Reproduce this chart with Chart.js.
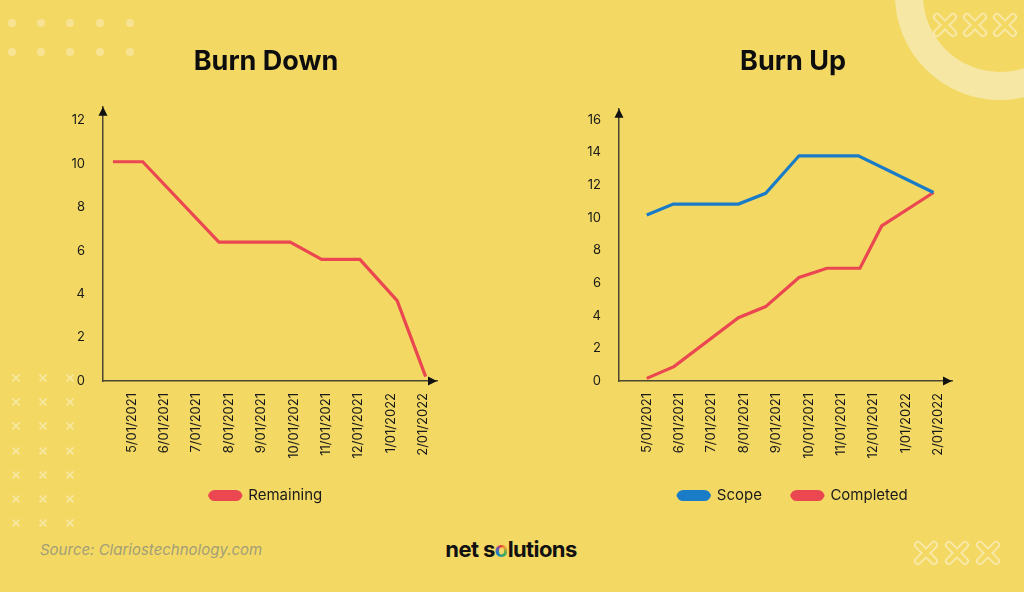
<!DOCTYPE html>
<html>
<head>
<meta charset="utf-8">
<script src="https://cdn.jsdelivr.net/npm/chart.js@4.4.0/dist/chart.umd.min.js"></script>
<style>
  body { margin: 0; width: 1024px; height: 592px; overflow: hidden; background: #f3d964; position: relative; font-family: Inter, sans-serif; }
  #deco { position: absolute; left: 0; top: 0; }
  #burnDown { position: absolute; left: 28px; top: 0; }
  #burnUp { position: absolute; left: 580px; top: 0; }
  .source { position: absolute; left: 40px; top: 540px; font-size: 15px; font-style: italic; color: #a39d78; }
  .logo { position: absolute; left: 511px; top: 536px; transform: translateX(-50%); font-size: 22px; font-weight: 700; color: #111; letter-spacing: -0.6px; }
  .logo span { background: conic-gradient(#e8403f, #f2a431, #3cae5a, #1b7dc4, #8b4fa8, #e8403f); -webkit-background-clip: text; background-clip: text; color: transparent; }
</style>
</head>
<body>
<svg id="deco" width="1024" height="592"></svg>
<canvas id="burnDown" width="480" height="513"></canvas>
<canvas id="burnUp" width="428" height="513"></canvas>
<div class="source">Source: Clariostechnology.com</div>
<div class="logo">net s<span>o</span>lutions</div>
<script>
// x positions are in months counted from 5/01/2021 (label index)
const dateLabels = ['5/01/2021', '6/01/2021', '7/01/2021', '8/01/2021', '9/01/2021',
  '10/01/2021', '11/01/2021', '12/01/2021', '1/01/2022', '2/01/2022'];

const remainingX = [-0.58, 0.34, 2.69, 4.89, 5.86, 7.04, 8.19, 9.07];
const remainingY = [10.1, 10.1, 6.4, 6.4, 5.6, 5.6, 3.7, 0.2];

const scopeX = [0, 0.82, 2.83, 3.67, 4.70, 6.53, 8.85];
const scopeY = [10.17, 10.84, 10.84, 11.5, 13.8, 13.8, 11.55];

const completedX = [0, 0.84, 2.83, 3.67, 4.70, 5.56, 6.58, 7.25, 8.85];
const completedY = [0.16, 0.88, 3.88, 4.56, 6.34, 6.91, 6.91, 9.5, 11.55];

const downTicks = [0, 2, 4, 6, 8, 10, 12];
const upTicks = [0, 2, 4, 6, 8, 10, 12, 14, 16];

const RED = '#ea4750';
const BLUE = '#1a7cc6';
const INK = '#1a1a1a';
const FONT = 'Inter, sans-serif';

function points(xs, ys) {
  return xs.map((x, i) => ({ x: x, y: ys[i] }));
}

// background decorations
const svg = document.getElementById('deco');
let deco = '';
deco += '<circle cx="1000" cy="-5" r="91" fill="none" stroke="#f6e7a4" stroke-width="28"/>';
[12, 41, 70, 100, 130].forEach(x => {
  [23, 52].forEach(y => { deco += `<circle cx="${x}" cy="${y}" r="4" fill="#f7e393"/>`; });
});
[16, 43, 70].forEach(x => {
  [378, 402, 426, 451, 475, 499, 523].forEach(y => {
    deco += `<path d="M${x-3.5} ${y-3.5}L${x+3.5} ${y+3.5}M${x+3.5} ${y-3.5}L${x-3.5} ${y+3.5}" stroke="#f8e8a6" stroke-width="1.6"/>`;
  });
});
function bigCross(x, y) {
  const d = `M${x-8} ${y-8}L${x+8} ${y+8}M${x+8} ${y-8}L${x-8} ${y+8}`;
  return `<path d="${d}" stroke="#f8e9ab" stroke-width="8" stroke-linecap="round"/>` +
         `<path d="${d}" stroke="#f3d964" stroke-width="4.5" stroke-linecap="round"/>`;
}
[945, 975, 1005].forEach(x => { deco += bigCross(x, 25); });
[926, 957, 988].forEach(x => { deco += bigCross(x, 553); });
svg.innerHTML = deco;

const axisArrows = {
  id: 'axisArrows',
  afterDraw(chart) {
    const { ctx, chartArea: a } = chart;
    ctx.save();
    ctx.fillStyle = '#111';
    ctx.beginPath();
    ctx.moveTo(a.left, a.top);
    ctx.lineTo(a.left - 4.5, a.top + 9);
    ctx.lineTo(a.left + 4.5, a.top + 9);
    ctx.fill();
    ctx.beginPath();
    ctx.moveTo(a.right, a.bottom);
    ctx.lineTo(a.right - 9, a.bottom - 4.5);
    ctx.lineTo(a.right - 9, a.bottom + 4.5);
    ctx.fill();
    ctx.restore();
  }
};

function makeOptions(o) {
  return {
    responsive: false,
    animation: false,
    layout: { padding: { left: o.padLeft, right: o.padRight, top: 0, bottom: 0 } },
    elements: { point: { radius: 0 }, line: { tension: 0, borderWidth: 3.2 } },
    plugins: {
      title: {
        display: true, text: o.title, color: '#0d0d0d',
        font: { family: FONT, size: 27, weight: '700' },
        padding: { top: 46, bottom: o.titleBottom }
      },
      legend: {
        position: 'bottom',
        labels: {
          color: INK, font: { family: FONT, size: 15 },
          boxWidth: 31, boxHeight: 8, padding: 30,
          useBorderRadius: true, borderRadius: 5
        }
      },
      tooltip: { enabled: false }
    },
    scales: {
      x: {
        type: 'linear', min: o.xMin, max: o.xMax,
        grid: { display: false },
        border: { display: true, color: '#4a4632', width: 1.5 },
        ticks: {
          color: INK, font: { family: FONT, size: 13 }, padding: 4,
          minRotation: 90, maxRotation: 90, autoSkip: false,
          callback: (v, i) => dateLabels[i]
        },
        afterBuildTicks: s => { s.ticks = dateLabels.map((_, i) => ({ value: i })); },
        afterFit: s => { s.height = 77; }
      },
      y: {
        min: 0, max: o.yMax,
        grid: { display: false },
        border: { display: true, color: '#4a4632', width: 1.5 },
        ticks: { color: INK, font: { family: FONT, size: 13 }, padding: 10 },
        afterBuildTicks: s => { s.ticks = o.yTicks.map(v => ({ value: v })); },
        afterFit: s => { s.width = o.yWidth; }
      },
      // empty right-hand box, only to move the title / legend centre
      pad: {
        position: 'right', axis: 'y', min: 0, max: 1,
        grid: { display: false }, border: { display: false }, ticks: { display: false },
        afterFit: s => { s.width = o.rightSpace; }
      }
    }
  };
}

new Chart(document.getElementById('burnDown'), {
  type: 'line',
  data: {
    datasets: [{
      label: 'Remaining',
      data: points(remainingX, remainingY),
      borderColor: RED, backgroundColor: RED
    }]
  },
  options: makeOptions({
    title: 'Burn Down', titleBottom: 28.4, padLeft: 35, padRight: 39, yWidth: 40, rightSpace: 32,
    yMax: 12.63, yTicks: downTicks, xMin: -0.886, xMax: 9.42
  }),
  plugins: [axisArrows]
});

new Chart(document.getElementById('burnUp'), {
  type: 'line',
  data: {
    datasets: [{
      label: 'Scope',
      data: points(scopeX, scopeY),
      borderColor: BLUE, backgroundColor: BLUE
    }, {
      label: 'Completed',
      data: points(completedX, completedY),
      borderColor: RED, backgroundColor: RED
    }]
  },
  options: makeOptions({
    title: 'Burn Up', titleBottom: 30.4, padLeft: 4, padRight: 6, yWidth: 35, rightSpace: 50,
    yMax: 16.68, yTicks: upTicks, xMin: -0.855, xMax: 9.42
  }),
  plugins: [axisArrows]
});
</script>
</body>
</html>
